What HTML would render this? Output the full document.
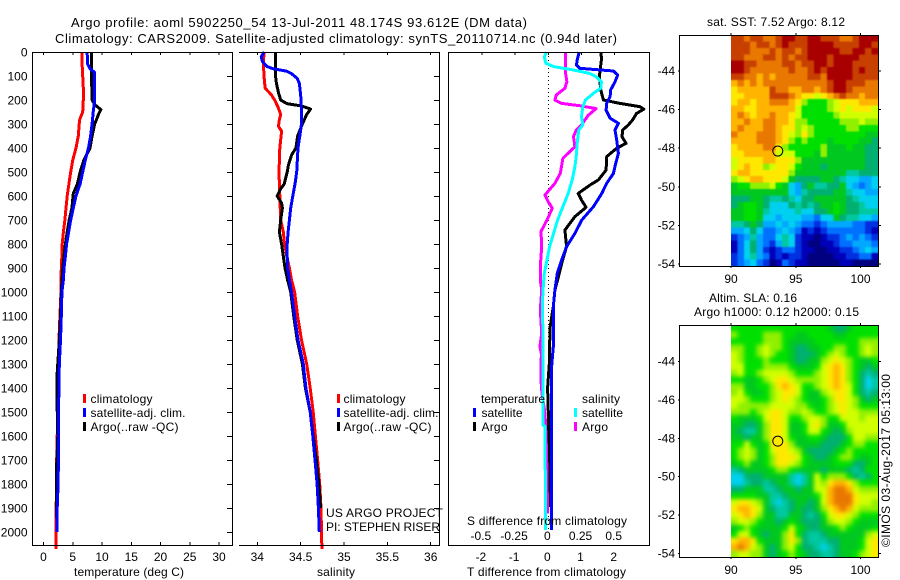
<!DOCTYPE html>
<html>
<head>
<meta charset="utf-8">
<title>Argo profile 5902250_54</title>
<style>
html,body{margin:0;padding:0;background:#fff;}
svg{display:block;}
text{font-family:"Liberation Sans",sans-serif;font-size:12px;fill:#000;}
</style>
</head>
<body>
<svg id="chart" xmlns="http://www.w3.org/2000/svg" width="900" height="580" viewBox="0 0 900 580">
  <defs>
    <filter id="sst-smooth" filterUnits="userSpaceOnUse" x="700" y="0" width="200" height="300" color-interpolation-filters="sRGB"><feGaussianBlur stdDeviation="0.9"/></filter>
    <filter id="sla-smooth" filterUnits="userSpaceOnUse" x="700" y="300" width="200" height="280" color-interpolation-filters="sRGB"><feGaussianBlur stdDeviation="2"/></filter>
    <clipPath id="sst-map-clip"><rect x="731" y="35" width="147" height="231"/></clipPath>
    <clipPath id="sla-map-clip"><rect x="731" y="325" width="147" height="232"/></clipPath>
  </defs>
  <rect x="0" y="0" width="900" height="580" fill="#fff"/>
  <text x="71" y="27" textLength="456" style="font-size:13px">Argo profile: aoml 5902250_54 13-Jul-2011 48.174S 93.612E (DM data)</text>
  <text x="55" y="43" textLength="562" style="font-size:13px">Climatology: CARS2009. Satellite-adjusted climatology: synTS_20110714.nc (0.94d later)</text>

  <g id="marks"></g>

  <text x="74" y="576" textLength="110">temperature (deg C)</text>
  <text x="317" y="576" textLength="38">salinity</text>
  <text x="467" y="576" textLength="159">T difference from climatology</text>
  <text x="467" y="525" textLength="160">S difference from climatology</text>

  <g>
    <rect x="83" y="394" width="3" height="9" fill="#f00"/>
    <text x="90.500" y="403" textLength="62">climatology</text>
    <rect x="83" y="408" width="3" height="9" fill="#00f"/>
    <text x="90.500" y="417" textLength="95">satellite-adj. clim.</text>
    <rect x="83" y="422" width="3" height="9" fill="#000"/>
    <text x="90.500" y="431" textLength="88">Argo(..raw -QC)</text>
  </g>
  <g>
    <rect x="337" y="394" width="3" height="9" fill="#f00"/>
    <text x="343.500" y="403" textLength="62">climatology</text>
    <rect x="337" y="408" width="3" height="9" fill="#00f"/>
    <text x="343.500" y="417" textLength="95">satellite-adj. clim.</text>
    <rect x="337" y="422" width="3" height="9" fill="#000"/>
    <text x="343.500" y="431" textLength="88">Argo(..raw -QC)</text>
  </g>
  <text x="326" y="517" textLength="117">US ARGO PROJECT</text>
  <text x="326" y="531" textLength="114">PI: STEPHEN RISER</text>

  <g>
    <text x="481" y="403" textLength="64">temperature</text>
    <rect x="473" y="408" width="3" height="9" fill="#00f"/>
    <text x="481.500" y="417" textLength="41">satellite</text>
    <rect x="473" y="422" width="3" height="9" fill="#000"/>
    <text x="481.500" y="431" textLength="26">Argo</text>
    <text x="582" y="403" textLength="38">salinity</text>
    <rect x="574" y="408" width="3" height="9" fill="#0ff"/>
    <text x="582" y="417" textLength="41">satellite</text>
    <rect x="574" y="422" width="3" height="9" fill="#f0f"/>
    <text x="582" y="431" textLength="26">Argo</text>
  </g>

  <text x="707" y="26" textLength="138">sat. SST: 7.52 Argo: 8.12</text>
  <text x="709" y="302" textLength="88">Altim. SLA: 0.16</text>
  <text x="694" y="316" textLength="165">Argo h1000: 0.12 h2000: 0.15</text>
  <text transform="translate(890,547) rotate(-90)" textLength="173">©IMOS 03-Aug-2017 05:13:00</text>
</svg>

<script>
// ----- Profile data (depth in m) -----
const climDepth = [0,50,100,150,200,250,280,300,350,400,450,500,550,600,650,700,750,800,850,900,950,1000,1100,1200,1300,1400,1500,1600,1700,1800,1900,2000,2070];
const tempClim = [6.6,6.6,6.7,6.8,6.8,6.7,6.2,6.1,5.95,5.55,5.0,4.65,4.35,4.05,3.85,3.65,3.4,3.2,3.15,3.05,3.0,3.0,2.8,2.65,2.65,2.5,2.5,2.35,2.25,2.25,2.15,2.15,2.15];
const salClimDepth = [0,50,100,150,180,200,230,260,290,310,330,400,500,600,700,750,800,850,900,950,1000,1100,1200,1300,1400,1500,1600,1700,1800,1900,2000,2070];
const salClim = [34.077,34.07,34.077,34.09,34.165,34.2,34.24,34.27,34.25,34.245,34.28,34.26,34.25,34.26,34.27,34.3,34.315,34.34,34.37,34.395,34.43,34.465,34.51,34.57,34.61,34.645,34.67,34.695,34.72,34.735,34.74,34.745];

const tempSatDepth = [0,50,70,85,100,200,250,300,350,400,450,500,550,600,650,700,750,800,850,900,950,1000,1100,1200,1300,1400,1500,1600,1700,1800,1900,2000];
const tempSat = [7.45,7.55,7.95,8.75,8.75,8.75,8.5,8.3,8.05,7.7,7.15,6.7,6.25,5.55,5.1,4.65,4.3,3.95,3.75,3.5,3.4,3.15,3.05,2.9,2.7,2.65,2.55,2.55,2.55,2.5,2.35,2.35];
const salSatDepth = [0,20,40,60,70,80,90,110,130,180,250,300,350,400,500,550,600,650,700,750,800,850,900,950,1000,1100,1200,1300,1400,1500,1600,1700,1800,1900,2000];
const salSat = [34.08,34.045,34.06,34.11,34.185,34.34,34.395,34.46,34.485,34.5,34.51,34.51,34.49,34.47,34.455,34.435,34.41,34.385,34.37,34.355,34.345,34.345,34.35,34.37,34.395,34.43,34.47,34.53,34.56,34.61,34.64,34.665,34.69,34.705,34.715];

const tempArgoDepth = [0,100,200,220,240,260,300,350,400,450,500,550,590,650,700,750,800,850,900,1000,1100,1200,1350,1450,1600,1750,1850,2000];
const tempArgo = [8.2,8.2,8.3,8.8,9.8,9.4,8.75,8.3,7.95,6.9,6.25,5.8,5.1,4.85,4.4,4.05,3.75,3.5,3.3,3.05,2.9,2.7,2.3,2.3,2.45,2.2,2.2,2.3];
const salArgoDepth = [0,100,130,170,200,215,225,238,260,300,350,400,430,470,500,550,570,600,630,650,700,750,800,850,900,950,1000,1100,1200,1300,1400,1500,1600,1700,1800,1900];
const salArgo = [34.21,34.21,34.22,34.245,34.27,34.34,34.51,34.615,34.57,34.52,34.465,34.445,34.395,34.36,34.345,34.31,34.27,34.23,34.28,34.29,34.27,34.255,34.28,34.3,34.32,34.35,34.385,34.42,34.46,34.52,34.555,34.61,34.645,34.68,34.71,34.73];

// ----- Difference panel data -----
const dTSatDepth = [0,33,54,68,79,96,124,158,186,214,242,276,297,325,367,422,464,506,547,589,644,700,756,811,867,922,992,1061,1228,1311,1561,1992];
const dTSat = [0.93,0.87,0.85,0.95,1.96,2.09,2.01,1.88,1.86,1.76,1.74,1.86,2.11,2.01,2.06,2.11,2.03,1.96,1.76,1.61,1.36,1.01,0.8,0.55,0.4,0.27,0.2,0.15,0.15,0.1,0.1,0.1];
const dTArgoDepth = [0,33,75,103,158,200,214,228,238,256,283,304,325,353,381,401,436,492,533,554,589,617,647,686,742,783,811,867,922,992,1061,1150,1300,1400,1500,1896];
const dTArgo = [1.59,1.6,1.56,1.54,1.58,1.66,2.16,2.76,2.88,2.66,2.54,2.41,2.24,2.22,2.34,2.06,1.76,1.74,1.51,1.26,0.9,1.0,1.14,0.8,0.5,0.53,0.55,0.43,0.33,0.2,0.15,0.05,0.03,-0.02,0.0,0.0];
const dSSatDepth = [0,19,47,61,75,89,103,124,151,172,200,228,269,304,325,367,436,478,533,589,644,700,756,811,867,922,992,1061,1172,1311,1554,1560,1992];
const dSSat = [-0.013,-0.03,-0.018,0.04,0.19,0.31,0.36,0.4,0.395,0.34,0.28,0.26,0.25,0.26,0.23,0.22,0.21,0.2,0.18,0.15,0.11,0.07,0.04,0.01,-0.01,-0.03,-0.04,-0.045,-0.04,-0.04,-0.04,-0.025,-0.02];
const dSArgoDepth = [0,61,89,124,151,179,200,214,224,236,264,304,325,353,395,443,506,547,596,624,651,700,748,811,894,950,992,1075,1172,1228,1256,1367,1422,1506,1589,1672,1922];
const dSArgo = [0.13,0.13,0.13,0.14,0.125,0.06,0.05,0.1,0.24,0.36,0.3,0.25,0.21,0.19,0.2,0.11,0.09,0.05,-0.025,0.0,0.03,-0.01,-0.055,-0.05,-0.06,-0.06,-0.05,-0.06,-0.05,-0.063,-0.053,-0.055,-0.048,-0.025,-0.018,-0.013,-0.005];

// ----- Tick labels -----
const depthTicks = [0,100,200,300,400,500,600,700,800,900,1000,1100,1200,1300,1400,1500,1600,1700,1800,1900,2000];
const tempTicks = [0,5,10,15,20,25,30];
const salTicks = [34,34.5,35,35.5,36];
const dTTicks = [-2,-1,0,1,2];
const dSTicks = [-0.5,-0.25,0,0.25,0.5];
const latTicks = [-44,-46,-48,-50,-52,-54];
const lonTicks = [90,95,100];
const floatLon = 93.612;
const floatLat = -48.174;

// ----- Heatmap levels, one array per row (0 = coldest/lowest, 16 = warmest/highest) -----
const sstGrid = [
[15,15,14,15,15,14,14,15,16,16,15,15,16,16,15,15,15,14,14,15,16,16,16],
[15,15,15,14,15,15,14,15,16,15,15,15,16,16,16,16,15,15,15,15,16,16,15],
[15,15,15,14,14,14,15,14,15,15,14,15,16,16,16,16,16,15,15,16,16,15,16],
[15,15,14,14,14,15,15,14,15,14,15,15,16,16,16,15,16,16,16,16,15,15,15],
[16,16,15,15,14,14,14,14,15,15,14,15,15,16,16,15,16,16,16,15,15,15,15],
[16,16,15,14,14,14,14,14,14,15,14,14,15,16,15,16,16,16,16,15,16,15,15],
[15,15,14,14,13,14,13,14,14,14,14,14,15,15,14,16,16,16,16,15,15,15,15],
[13,14,13,14,13,14,14,14,14,14,14,14,14,14,14,15,16,16,15,15,15,14,14],
[12,13,13,13,13,13,15,14,14,13,13,14,14,13,14,15,16,16,15,14,14,14,14],
[12,12,13,13,13,13,15,15,15,14,13,12,12,11,12,13,14,15,14,14,13,14,14],
[12,13,13,12,13,13,14,14,14,13,12,10,9,9,9,10,11,12,12,12,13,13,13],
[13,13,12,12,13,13,13,13,13,13,11,9,9,9,9,10,11,12,11,12,12,12,11],
[13,14,13,12,13,13,14,13,13,12,11,9,9,9,9,9,10,11,11,11,11,11,11],
[13,13,14,13,13,14,14,13,13,12,10,10,9,9,9,9,9,10,10,10,11,10,10],
[13,14,13,13,13,14,14,13,12,12,10,11,10,9,9,9,9,9,10,10,9,9,9],
[14,13,13,13,14,14,14,13,12,11,10,12,10,9,9,9,9,9,9,9,9,8,8],
[13,13,13,13,14,14,14,13,12,10,9,10,9,9,9,8,9,9,9,9,8,8,7],
[12,13,13,13,13,14,14,12,10,9,9,9,9,9,10,8,8,8,9,8,8,7,7],
[12,12,13,13,13,13,13,11,11,11,9,9,9,8,10,8,8,8,8,8,8,7,7],
[11,12,12,12,12,13,13,12,12,12,10,8,8,8,8,8,8,8,8,8,8,7,7],
[11,12,13,12,12,10,11,12,12,11,9,8,8,8,7,8,8,8,8,8,8,7,7],
[12,13,13,12,12,12,12,12,12,10,8,8,8,8,8,8,8,8,6,6,7,7,7],
[10,11,12,13,13,12,12,12,11,8,7,7,7,7,8,8,7,6,5,5,4,4,5],
[8,9,9,10,10,10,11,9,8,5,4,7,8,6,6,7,7,8,5,4,3,4,5],
[8,8,8,8,8,8,8,8,8,5,4,6,7,7,7,7,8,8,6,5,5,4,4],
[7,7,7,8,8,7,6,6,7,6,5,7,7,8,8,8,8,8,7,6,5,5,5],
[7,8,9,9,8,7,5,5,5,7,6,7,6,7,8,8,9,8,7,7,6,5,5],
[8,8,9,9,8,6,5,5,5,5,6,5,5,7,7,8,9,8,7,7,6,6,6],
[8,8,9,9,8,5,5,4,5,5,5,4,4,3,5,5,8,7,6,6,5,5,4],
[6,6,7,8,7,4,4,5,4,5,4,3,3,2,3,4,4,4,4,3,3,2,2],
[4,4,5,7,5,3,3,4,5,4,3,1,2,1,2,3,3,3,3,3,3,2,1],
[2,3,4,6,4,3,3,5,6,5,2,1,1,0,1,2,2,3,4,3,4,3,2],
[1,3,5,7,4,3,2,4,6,5,2,1,0,0,1,1,2,3,3,4,4,4,3],
[1,3,5,7,4,2,1,2,3,3,2,1,1,0,0,1,1,2,2,3,4,5,4],
[2,3,5,6,4,3,1,2,1,2,2,1,0,0,0,0,1,1,2,2,3,3,1],
[2,3,4,5,3,2,0,1,3,2,1,1,0,0,0,0,0,1,1,0,0,0,0]
];
const slaGrid = [
[9,9,9,9,9,9,9,9,9,9,9,9,9,9,9,8,7,7,8,9,9,9,9],
[10,9,9,9,9,10,10,10,9,9,8,8,9,9,9,9,8,8,9,9,9,9,9],
[9,9,9,9,9,10,10,10,9,8,8,8,8,9,9,9,9,9,9,9,10,10,10],
[10,10,9,9,10,11,10,10,9,8,7,7,8,8,9,9,10,10,9,9,10,11,10],
[11,10,9,9,10,11,10,9,9,8,7,7,7,8,9,10,11,10,9,9,10,11,10],
[11,10,9,9,9,10,9,9,9,8,7,7,8,8,10,11,12,11,10,9,8,8,9],
[11,11,9,9,9,10,10,10,10,9,8,8,8,9,11,12,13,12,10,9,8,7,8],
[10,11,9,9,10,11,11,11,11,10,9,9,9,10,11,12,13,12,10,9,7,6,7],
[9,9,8,8,9,10,11,12,12,11,10,10,10,10,11,12,13,12,10,9,7,5,6],
[10,10,8,8,9,9,10,12,13,12,11,9,9,10,11,12,13,12,11,9,7,5,6],
[10,11,9,8,8,9,10,11,12,12,11,9,8,8,10,11,12,12,11,9,7,6,7],
[11,11,10,9,9,9,10,11,12,11,10,9,8,8,9,10,12,12,11,10,8,7,8],
[11,10,10,10,10,10,11,11,11,11,10,10,9,8,9,10,11,12,11,10,9,9,9],
[10,10,10,9,10,11,12,12,11,10,10,11,10,9,9,10,11,12,11,11,10,10,10],
[9,8,8,8,9,11,12,12,11,9,9,10,11,11,10,9,9,11,11,11,10,11,11],
[8,8,7,7,8,10,12,12,11,8,8,9,11,12,10,8,8,9,11,11,11,11,11],
[8,7,6,6,8,10,12,12,11,8,8,9,11,11,9,8,7,8,10,11,11,11,11],
[8,8,7,8,8,10,12,12,11,9,8,8,9,9,8,7,7,7,9,11,11,10,10],
[9,9,11,9,8,9,12,12,12,10,8,8,8,8,7,7,7,8,9,10,10,9,9],
[9,10,11,10,8,9,11,12,12,11,10,8,7,7,7,7,8,9,10,9,9,9,9],
[9,10,11,10,8,9,10,12,12,12,11,9,8,7,7,8,9,10,10,9,8,8,9],
[8,9,10,8,8,9,10,12,12,11,10,9,8,8,8,8,9,9,9,7,7,8,9],
[6,7,8,8,8,8,9,10,10,9,8,8,8,8,7,8,8,8,7,6,7,9,9],
[5,5,7,7,7,8,8,8,8,6,5,6,8,11,9,10,10,10,9,7,6,7,9],
[5,5,6,7,7,6,7,8,8,6,5,6,8,11,10,12,13,13,12,10,9,9,9],
[7,7,8,8,8,6,6,7,8,8,7,8,8,11,11,13,14,14,13,11,10,10,10],
[9,9,9,9,8,8,6,6,7,8,8,8,8,9,11,13,14,14,14,12,11,11,11],
[11,12,12,11,10,8,6,5,6,7,8,8,7,8,11,13,14,14,14,12,11,11,10],
[12,13,13,12,11,8,7,6,6,7,8,7,7,8,10,12,13,14,13,11,10,10,10],
[11,12,13,12,10,8,8,6,6,8,8,7,6,7,9,11,12,12,11,10,9,9,9],
[10,11,11,10,9,8,8,7,8,9,8,7,7,7,8,10,11,11,10,9,8,8,8],
[8,9,10,9,8,8,8,8,9,11,9,8,7,7,8,8,9,10,9,8,8,8,9],
[9,11,11,9,8,7,8,8,10,12,9,7,6,6,7,8,8,8,8,8,8,10,11],
[12,13,13,12,9,8,8,8,10,12,10,7,6,6,6,7,7,8,8,8,9,11,12],
[13,14,13,11,10,8,7,8,10,11,9,7,7,6,5,6,7,8,8,8,9,11,12],
[10,11,11,10,10,8,7,8,9,10,9,8,7,7,6,6,7,8,8,9,10,11,12]
];

// ----- Colour scale -----
const levelColours = ['#000080','#0000b8','#0030e0','#0070ff','#00a8ff','#00d0f0','#00c8a0','#00b070','#00c820','#00e000','#90f000','#d0ff00','#ffe800','#ffb400','#e87800','#c84000','#a80000'];

// ----- Axis functions -----
const depthY = d => 52 + d * 0.24;
const tempX = v => 43.5 + v * 5.85;
const salX = v => 257.3 + (v - 34) * 86.7;
const dTX = v => 548.3 + v * 33.2;
const dSX = v => 548.3 + v * 132.8;
const lonX = v => 731 + (v - 90) * 12.95;
const sstLatY = v => 70.5 + (-44 - v) * 19.3;
const slaLatY = v => 361 + (-44 - v) * 19.2;

const NS = 'http://www.w3.org/2000/svg';
const root = document.getElementById('marks');

function addLine(parent, x1, y1, x2, y2, name) {
  const el = document.createElementNS(NS, 'line');
  
  
  el.setAttribute('x1', x1);
  el.setAttribute('y1', y1);
  el.setAttribute('x2', x2);
  el.setAttribute('y2', y2);
  el.setAttribute('stroke', '#000');
  el.setAttribute('stroke-width', '1');
  el.setAttribute('shape-rendering', 'crispEdges');
  parent.appendChild(el);
  return el;
}
function addText(parent, x, y, str, anchor, name) {
  const el = document.createElementNS(NS, 'text');
  
  
  el.setAttribute('x', x);
  el.setAttribute('y', y);
  el.setAttribute('text-anchor', anchor);
  el.textContent = str;
  parent.appendChild(el);
  return el;
}
function addGroup(name, parent) {
  const el = document.createElementNS(NS, 'g');
  
  
  (parent || root).appendChild(el);
  return el;
}
function addSeries(parent, depths, values, xFn, colour, name) {
  const el = document.createElementNS(NS, 'polyline');
  
  
  el.setAttribute('points', depths.map((d, i) => xFn(values[i]).toFixed(1) + ',' + depthY(d).toFixed(1)).join(' '));
  el.setAttribute('fill', 'none');
  el.setAttribute('stroke', colour);
  el.setAttribute('stroke-width', '3');
  el.setAttribute('stroke-linejoin', 'round');
  el.setAttribute('shape-rendering', 'crispEdges');
  parent.appendChild(el);
  return el;
}

const top_ = 52, bottom = 545;

// ----- Panel 1: temperature -----
const p1 = addGroup('temperature-panel');
addSeries(p1, climDepth, tempClim, tempX, '#f00', 'temperature-climatology-line');
addSeries(p1, tempArgoDepth, tempArgo, tempX, '#000', 'temperature-argo-line');
addSeries(p1, tempSatDepth, tempSat, tempX, '#00f', 'temperature-satellite-line');
addLine(p1, 32.5, top_, 32.5, bottom, 'temperature-axis-left');
addLine(p1, 232.5, top_, 232.5, bottom, 'temperature-axis-right');
addLine(p1, 32, top_ + .5, 233, top_ + .5, 'temperature-axis-top');
addLine(p1, 32, bottom + .5, 233, bottom + .5, 'temperature-axis-bottom');
tempTicks.forEach(t => {
  addLine(p1, tempX(t), top_, tempX(t), top_ + 3, 'temperature-top-tick');
  addLine(p1, tempX(t), bottom, tempX(t), bottom - 3, 'temperature-bottom-tick');
  addText(p1, tempX(t), 561, String(t), 'middle', 'temperature-tick-label');
});
depthTicks.forEach(d => {
  addLine(p1, 227, depthY(d) + .5, 232, depthY(d) + .5, 'depth-tick');
  addText(p1, 27.5, depthY(d) + 4.5, String(d), 'end', 'depth-tick-label');
});

// ----- Panel 2: salinity -----
const p2 = addGroup('salinity-panel');
addSeries(p2, salClimDepth, salClim, salX, '#f00', 'salinity-climatology-line');
addSeries(p2, salArgoDepth, salArgo, salX, '#000', 'salinity-argo-line');
addSeries(p2, salSatDepth, salSat, salX, '#00f', 'salinity-satellite-line');
addLine(p2, 439.5, top_, 439.5, bottom, 'salinity-axis-right');
addLine(p2, 239, top_ + .5, 440, top_ + .5, 'salinity-axis-top');
addLine(p2, 239, bottom + .5, 440, bottom + .5, 'salinity-axis-bottom');
salTicks.forEach(t => {
  addLine(p2, salX(t), top_, salX(t), top_ + 3, 'salinity-top-tick');
  addLine(p2, salX(t), bottom, salX(t), bottom - 3, 'salinity-bottom-tick');
  addText(p2, salX(t), 561, String(t), 'middle', 'salinity-tick-label');
});
depthTicks.forEach(d => {
  addLine(p2, 434, depthY(d) + .5, 439, depthY(d) + .5, 'depth-tick');
});

// ----- Panel 3: differences -----
const p3 = addGroup('difference-panel');
const zero = addLine(p3, dTX(0), top_, dTX(0), 530, 'zero-reference-line');
zero.setAttribute('stroke-dasharray', '1 3');
addSeries(p3, dTArgoDepth, dTArgo, dTX, '#000', 't-difference-argo-line');
addSeries(p3, dTSatDepth, dTSat, dTX, '#00f', 't-difference-satellite-line');
addSeries(p3, dSArgoDepth, dSArgo, dSX, '#f0f', 's-difference-argo-line');
addSeries(p3, dSSatDepth, dSSat, dSX, '#0ff', 's-difference-satellite-line');
addLine(p3, 448.5, top_, 448.5, bottom, 'difference-axis-left');
addLine(p3, 649.5, top_, 649.5, bottom, 'difference-axis-right');
addLine(p3, 448, top_ + .5, 650, top_ + .5, 'difference-axis-top');
addLine(p3, 448, bottom + .5, 650, bottom + .5, 'difference-axis-bottom');
dTTicks.forEach(t => {
  addLine(p3, dTX(t), top_, dTX(t), top_ + 3, 'difference-top-tick');
  addText(p3, dTX(t) - 1, 561, String(t), 'middle', 't-difference-tick-label');
});
dSTicks.forEach(t => {
  addText(p3, dSX(t) - 1, 540, String(t), 'middle', 's-difference-tick-label');
});

// ----- Maps -----
function drawMap(name, grid, latY, axisTop, axisBottom, clipId, filterId) {
  const g = addGroup(name);
  const clip = addGroup('heatmap-clip', g);
  clip.setAttribute('clip-path', 'url(#' + clipId + ')');
  const cells = addGroup('heatmap-cells', clip);
  cells.setAttribute('filter', 'url(#' + filterId + ')');
  const x0 = 731, x1 = 878, pad = 10;
  const cw = (x1 - x0) / grid[0].length;
  const ch = (axisBottom - axisTop) / grid.length;
  grid.forEach((row, r) => {
    row.forEach((v, c) => {
      const padL = c === 0 ? pad : 0;
      const padR = c === row.length - 1 ? pad : 0;
      const padT = r === 0 ? pad : 0;
      const padB = r === grid.length - 1 ? pad : 0;
      const cell = document.createElementNS(NS, 'rect');
      
      
      cell.setAttribute('x', (x0 + c * cw - padL).toFixed(2));
      cell.setAttribute('y', (axisTop + r * ch - padT).toFixed(2));
      cell.setAttribute('width', (cw + .3 + padL + padR).toFixed(2));
      cell.setAttribute('height', (ch + .3 + padT + padB).toFixed(2));
      cell.setAttribute('fill', levelColours[v]);
      cell.setAttribute('shape-rendering', 'crispEdges');
      cells.appendChild(cell);
    });
  });
  addLine(g, 679.5, axisTop, 679.5, axisBottom, 'map-axis-left');
  addLine(g, 878.5, axisTop, 878.5, axisBottom, 'map-axis-right');
  addLine(g, 679, axisTop + .5, 879, axisTop + .5, 'map-axis-top');
  addLine(g, 679, axisBottom + .5, 879, axisBottom + .5, 'map-axis-bottom');
  latTicks.forEach(t => {
    addLine(g, 878, latY(t) + .5, 881, latY(t) + .5, 'map-right-tick');
    addLine(g, 678, latY(t) + .5, 680, latY(t) + .5, 'map-left-tick');
    addText(g, 675, latY(t) + 4.5, String(t), 'end', 'latitude-tick-label');
  });
  lonTicks.forEach(t => {
    addLine(g, lonX(t), axisTop - 2, lonX(t), axisTop, 'map-top-tick');
    addLine(g, lonX(t), axisBottom, lonX(t), axisBottom + 2, 'map-bottom-tick');
    addText(g, lonX(t), axisBottom + 17, String(t), 'middle', 'longitude-tick-label');
  });
  const circle = document.createElementNS(NS, 'circle');
  
  
  circle.setAttribute('cx', lonX(floatLon));
  circle.setAttribute('cy', latY(floatLat));
  circle.setAttribute('r', '5');
  circle.setAttribute('fill', 'none');
  circle.setAttribute('stroke', '#000');
  circle.setAttribute('stroke-width', '1');
  g.appendChild(circle);
}
drawMap('sst-map', sstGrid, sstLatY, 35, 266, 'sst-map-clip', 'sst-smooth');
drawMap('sla-map', slaGrid, slaLatY, 325, 557, 'sla-map-clip', 'sla-smooth');
</script>
</body>
</html>
